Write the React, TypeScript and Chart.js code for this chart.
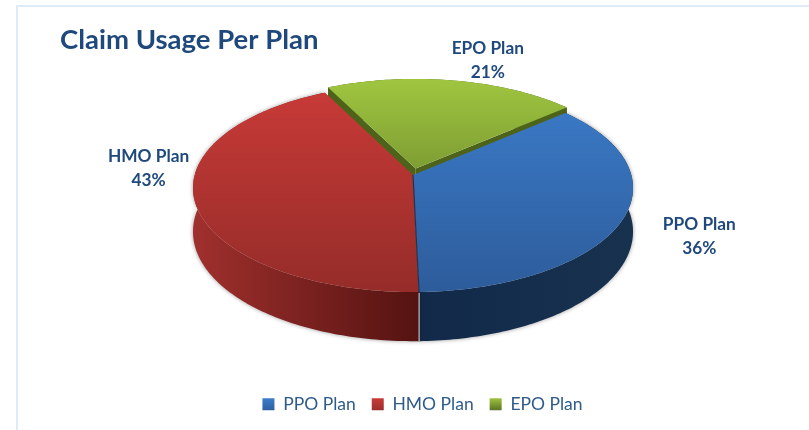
import React, { useEffect, useRef } from "react";
import { Chart, registerables } from "chart.js";

Chart.register(...registerables);

const TITLE = "Claim Usage Per Plan";
const PLANS = ["PPO Plan", "HMO Plan", "EPO Plan"];
const SHARES = [36, 43, 21];
const TOP_LIGHT = ["#3c7dcb", "#ca3b38", "#9fc540"];
const TOP_DARK = ["#2d5c9b", "#952c29", "#516820"];
const WALL_LEFT = ["#12294a", "#a0302d", "#4d6319"];
const WALL_RIGHT = ["#17324f", "#541311", "#4d6319"];
const TEXT_BLUE = "#1f497d";
const LEGEND_BLUE = "#2f5b8a";
const FONT = "Lato, Carlito, sans-serif";

// perspective of the pie's top face, in page pixels
const VIEW = { cx: 413, cy: 175, a: 218.3, b: 102.4, p: -0.125, depth: 43 };
const LABEL_OFFSETS = [[76, 18], [-46, -32], [37, -25]];

const project = (u: number, v: number, down = 0) => {
  const w = 1 + VIEW.p * v;
  return { x: VIEW.cx + (VIEW.a * u) / w, y: VIEW.cy + (VIEW.b * v + down * VIEW.depth) / w };
};

const pie3d = {
  id: "pie3d",
  beforeDatasetsDraw(chart: any) {
    const ctx = chart.ctx;
    const arcs = chart.getDatasetMeta(0).data;
    const shape = arcs.map((arc: any) => {
      const mid = (arc.startAngle + arc.endAngle) / 2;
      const shift = (arc.options.offset || 0) / arc.outerRadius;
      const ox = Math.cos(mid) * shift;
      const oy = Math.sin(mid) * shift;
      const n = Math.max(8, Math.round(((arc.endAngle - arc.startAngle) * 180) / Math.PI));
      const rim: [number, number][] = [];
      for (let i = 0; i <= n; i++) {
        const t = arc.startAngle + ((arc.endAngle - arc.startAngle) * i) / n;
        rim.push([ox + Math.cos(t), oy + Math.sin(t)]);
      }
      return { rim, ox, oy, shift };
    });

    const trace = (pts: { x: number; y: number }[]) => {
      ctx.beginPath();
      pts.forEach((p, i) => (i ? ctx.lineTo(p.x, p.y) : ctx.moveTo(p.x, p.y)));
      ctx.closePath();
    };

    // walls, exploded slice first
    const order = arcs.map((_: any, i: number) => i).sort((a: number, b: number) => shape[b].shift - shape[a].shift);
    ctx.save();
    order.forEach((i: number) => {
      const s = shape[i];
      const xs = s.rim.map((r: number[]) => project(r[0], r[1]).x);
      const wallGrad = ctx.createLinearGradient(Math.min(...xs), 0, Math.max(...xs), 0);
      wallGrad.addColorStop(0, WALL_LEFT[i]);
      wallGrad.addColorStop(1, WALL_RIGHT[i]);
      ctx.fillStyle = wallGrad;
      if (s.shift > 0) {
        const c0 = project(s.ox, s.oy);
        const c1 = project(s.ox, s.oy, 1);
        const a0 = project(s.rim[0][0], s.rim[0][1]);
        const a1 = project(s.rim[0][0], s.rim[0][1], 1);
        const e = s.rim[s.rim.length - 1];
        const b0 = project(e[0], e[1]);
        const b1 = project(e[0], e[1], 1);
        trace([c0, a0, a1, c1]);
        ctx.fill();
        trace([c0, b0, b1, c1]);
        ctx.fill();
      } else {
        ctx.shadowColor = "rgba(0,0,0,0.4)";
        ctx.shadowBlur = 4;
      }
      const top = s.rim.map((r: number[]) => project(r[0], r[1]));
      const bottom = s.rim.map((r: number[]) => project(r[0], r[1], 1)).reverse();
      trace([...top, ...bottom]);
      ctx.fill();
      ctx.shadowColor = "transparent";
      ctx.shadowBlur = 0;
    });

    // pale seam between the two front walls
    const seam = shape[0].rim[shape[0].rim.length - 1];
    const seamTop = project(seam[0], seam[1]);
    const seamBottom = project(seam[0], seam[1], 1);
    ctx.strokeStyle = "#d8d8d8";
    ctx.lineWidth = 1;
    ctx.beginPath();
    ctx.moveTo(seamTop.x, seamTop.y + 1);
    ctx.lineTo(seamBottom.x, seamBottom.y);
    ctx.stroke();

    // top faces
    order.forEach((i: number) => {
      const s = shape[i];
      const g = ctx.createLinearGradient(0, 80, 0, 292);
      g.addColorStop(0, TOP_LIGHT[i]);
      g.addColorStop(1, TOP_DARK[i]);
      ctx.fillStyle = g;
      trace([project(s.ox, s.oy), ...s.rim.map((r: number[]) => project(r[0], r[1]))]);
      ctx.fill();
    });

    // thin dark edge where the blue face meets the red face
    const c = project(0, 0);
    ctx.strokeStyle = "#22344f";
    ctx.lineWidth = 1.2;
    ctx.beginPath();
    ctx.moveTo(c.x, c.y);
    ctx.lineTo(seamTop.x, seamTop.y);
    ctx.stroke();
    ctx.restore();

    // data labels
    ctx.save();
    ctx.fillStyle = TEXT_BLUE;
    ctx.font = `bold 17.3px ${FONT}`;
    ctx.textAlign = "center";
    ctx.textBaseline = "middle";
    arcs.forEach((arc: any, i: number) => {
      const mid = (arc.startAngle + arc.endAngle) / 2;
      const edge = project(Math.cos(mid), Math.sin(mid));
      const x = edge.x + LABEL_OFFSETS[i][0];
      const y = edge.y + LABEL_OFFSETS[i][1];
      ctx.fillText(PLANS[i], x, y - 12);
      ctx.fillText(`${SHARES[i]}%`, x, y + 12);
    });
    ctx.restore();
    return false;
  },
};

export default function App() {
  const ref = useRef<HTMLCanvasElement | null>(null);
  useEffect(() => {
    document.body.style.margin = "0";
    document.body.style.overflow = "hidden";
    const canvas = ref.current!;
    const chart = new Chart(canvas, {
      type: "pie",
      data: {
        labels: PLANS,
        datasets: [{ data: SHARES, backgroundColor: TOP_LIGHT, borderWidth: 0, offset: [0, 0, 10] }],
      },
      options: {
        responsive: false,
        animation: false,
        rotation: 49,
        layout: { padding: { left: 60, right: 24, top: 24, bottom: 7 } },
        plugins: {
          tooltip: { enabled: false },
          title: {
            display: true,
            text: TITLE,
            align: "start",
            color: TEXT_BLUE,
            font: { family: FONT, size: 27.5, weight: "bold" },
            padding: { top: 0, bottom: 0 },
          },
          legend: {
            position: "bottom",
            labels: {
              boxWidth: 12,
              boxHeight: 12,
              padding: 16,
              color: LEGEND_BLUE,
              font: { family: FONT, size: 17.5 },
              generateLabels(c: any) {
                const base = (Chart as any).overrides.doughnut.plugins.legend.labels.generateLabels(c);
                return base.map((item: any, i: number) => {
                  const g = c.ctx.createLinearGradient(0, 398, 0, 412);
                  g.addColorStop(0, TOP_LIGHT[i]);
                  g.addColorStop(1, TOP_DARK[i]);
                  return { ...item, fillStyle: g, lineWidth: 0 };
                });
              },
            },
          },
        },
      } as any,
      plugins: [pie3d as any],
    });
    return () => chart.destroy();
  }, []);

  return (
    <div style={{ position: "absolute", left: 0, top: 0, width: 809, height: 430, overflow: "hidden", background: "#fff" }}>
      <div style={{ position: "absolute", left: 16, top: 5, width: 800, height: 440, borderLeft: "2px solid #dfeafa", borderTop: "2px solid #dfeafa" }} />
      <canvas ref={ref} width={809} height={430} style={{ position: "absolute", left: 0, top: 0 }} />
    </div>
  );
}
